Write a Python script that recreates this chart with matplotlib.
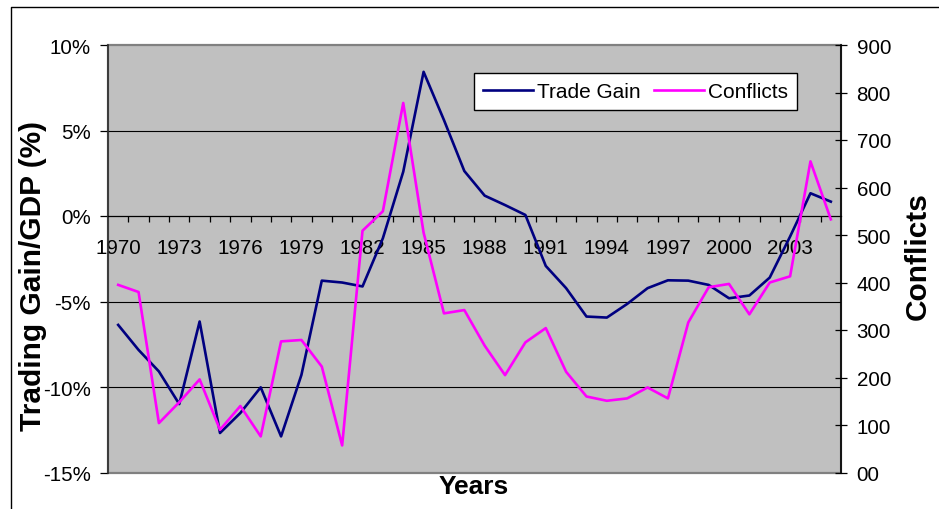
import matplotlib
matplotlib.use("Agg")
import matplotlib.pyplot as plt
from matplotlib.lines import Line2D
from matplotlib.patches import Rectangle

plt.rcParams['font.family'] = ['Liberation Sans', 'DejaVu Sans']
plt.rcParams['axes.unicode_minus'] = False

years = list(range(1970, 2006))
trade_gain = [-6.37, -7.83, -9.09, -11.0, -6.17, -12.69, -11.52, -10.02, -12.89, -9.29,
              -3.78, -3.89, -4.12, -1.30, 2.59, 8.43, 5.61, 2.63, 1.19, 0.64,
              0.06, -2.92, -4.22, -5.88, -5.94, -5.14, -4.22, -3.76, -3.78, -4.03,
              -4.81, -4.65, -3.60, -1.20, 1.33, 0.84]
conflicts = [395, 380, 104, 148, 196, 90, 140, 76, 276, 279,
             223, 57, 509, 550, 778, 505, 335, 342, 267, 205,
             274, 304, 212, 160, 151, 156, 179, 156, 316, 390,
             397, 333, 400, 413, 655, 533]
left_ticks = [-15, -10, -5, 0, 5, 10]
left_labels = ['-15%', '-10%', '-5%', '0%', '5%', '10%']
right_ticks = [0, 100, 200, 300, 400, 500, 600, 700, 800, 900]
right_labels = ['00', '100', '200', '300', '400', '500', '600', '700', '800', '900']
label_years = list(range(1970, 2004, 3))

W, H = 939, 510
fig = plt.figure(figsize=(W / 100, H / 100), dpi=100)
L, R, T, B = 108, 841, 46, 473.5
ax = fig.add_axes([L / W, 1 - B / H, (R - L) / W, (B - T) / H])
ax.set_facecolor('#C0C0C0')

x = list(range(len(years)))
ax.set_xlim(-0.5, len(years) - 0.5)
ax.set_ylim(-15, 10)

for g in [-10, -5, 5]:
    ax.axhline(g, color='black', lw=0.8, zorder=1)

ax.plot(x, trade_gain, color='#000080', lw=1.9, zorder=3, label='Trade Gain')

# spines
for s in ['top', 'right']:
    ax.spines[s].set_visible(False)
ax.spines['bottom'].set_position(('data', 0))
ax.spines['bottom'].set_color('black')
ax.spines['bottom'].set_linewidth(0.9)
ax.spines['left'].set_color('#303030')
ax.spines['left'].set_linewidth(1.2)
ax.add_patch(Rectangle((0, 0), 1, 1, transform=ax.transAxes, fill=False,
                       edgecolor='#808080', lw=1.6, zorder=0.5, clip_on=False))

ax.set_yticks(left_ticks)
ax.set_yticklabels(left_labels, fontsize=14.8)
ax.tick_params(axis='y', direction='out', length=5.8, width=0.9, pad=6.5, color='black')

pos = [years.index(y) for y in label_years]
ax.set_xticks(pos)
ax.set_xticklabels([str(y) for y in label_years], fontsize=14.8)
ax.set_xticks([k - 0.5 for k in range(1, len(years))], minor=True)
ax.tick_params(axis='x', which='major', length=0, pad=15.5)
ax.tick_params(axis='x', which='minor', direction='out', length=4.3, width=0.9, color='black')

ax2 = ax.twinx()
ax2.set_ylim(0, 900)
ax2.plot(x, conflicts, color='#FF00FF', lw=1.9, zorder=3, label='Conflicts')
for s in ['top', 'bottom', 'left']:
    ax2.spines[s].set_visible(False)
ax2.spines['right'].set_color('black')
ax2.spines['right'].set_linewidth(1.2)
ax2.set_yticks(right_ticks)
ax2.set_yticklabels(right_labels, fontsize=14.8)
ax2.tick_params(axis='y', direction='inout', length=8.4, width=0.9, pad=7.0)

h1, l1 = ax.get_legend_handles_labels()
h2, l2 = ax2.get_legend_handles_labels()
leg = ax2.legend(h1 + h2, l1 + l2, loc='center', ncol=2,
                 bbox_to_anchor=(635.5 / W, 1 - 92.5 / H), bbox_transform=fig.transFigure,
                 fontsize=15, frameon=True, fancybox=False, framealpha=1,
                 edgecolor='black', handlelength=2.4, handletextpad=0.2,
                 columnspacing=0.6, borderpad=0.45, borderaxespad=0)
leg.get_frame().set_linewidth(1.0)

fig.text(33 / W, 1 - 276 / H, 'Trading Gain/GDP (%)', rotation=90, fontsize=21.5,
         fontweight='bold', ha='center', va='center')
fig.text(918 / W, 1 - 256 / H, 'Conflicts', rotation=90, fontsize=21.5,
         fontweight='bold', ha='center', va='center')
fig.text(474 / W, 1 - 487 / H, 'Years', fontsize=19, fontweight='bold',
         ha='center', va='center')

fig.add_artist(Line2D([11 / W, 11 / W, 1.0], [0.0, 1 - 8 / H, 1 - 8 / H],
                      transform=fig.transFigure, color='black', lw=1.0))

fig.savefig('out.png', dpi=100)
